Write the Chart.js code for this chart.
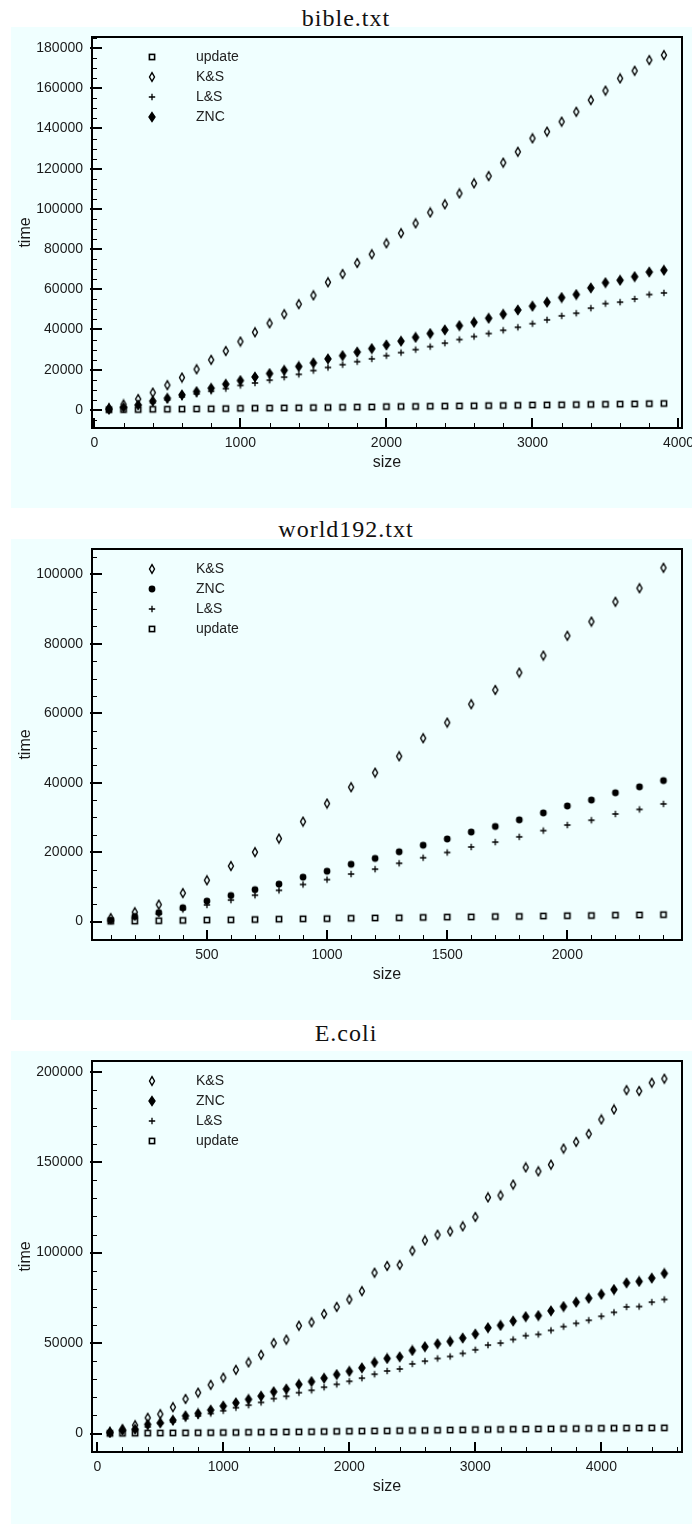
<!DOCTYPE html>
<html>
<head>
<meta charset="utf-8">
<script src="https://cdn.jsdelivr.net/npm/chart.js@4/dist/chart.umd.min.js"></script>
<style>
body { margin: 0; background: #fff; width: 692px; height: 1524px; overflow: hidden; position: relative; }
.title { position: absolute; left: 0; width: 692px; text-align: center; font-family: "Liberation Serif", serif; font-size: 24px; line-height: 24px; letter-spacing: 1px; color: #111; }
.panel { position: absolute; left: 11px; width: 681px; background: #f0ffff; }
canvas { display: block; }
</style>
</head>
<body>
<div class="title" style="top:6px">bible.txt</div>
<div class="panel" style="top:27px;height:481px"><canvas id="bible" width="681" height="481"></canvas></div>
<div class="title" style="top:517px">world192.txt</div>
<div class="panel" style="top:539px;height:481px"><canvas id="world" width="681" height="481"></canvas></div>
<div class="title" style="top:1021px">E.coli</div>
<div class="panel" style="top:1051px;height:473px"><canvas id="ecoli" width="681" height="473"></canvas></div>
<script>
// bible.txt
const bibleSizes = [100, 200, 300, 400, 500, 600, 700, 800, 900, 1000, 1100, 1200, 1300, 1400, 1500, 1600, 1700, 1800, 1900, 2000,
  2100, 2200, 2300, 2400, 2500, 2600, 2700, 2800, 2900, 3000, 3100, 3200, 3300, 3400, 3500, 3600, 3700, 3800, 3900];
const bibleUpdate = [100, 150, 200, 300, 350, 400, 500, 550, 650, 800, 850, 900, 1000, 1050, 1150, 1200, 1300, 1400, 1450, 1650,
  1700, 1750, 1850, 1900, 2000, 2050, 2150, 2200, 2300, 2450, 2500, 2550, 2650, 2750, 2800, 2900, 3000, 3100, 3200];
const bibleKS = [900, 2700, 5400, 8600, 12300, 16100, 20200, 24900, 29300, 34000, 38600, 43100, 47600, 52600, 57000, 63500, 67600, 73100, 77400, 82900,
  87900, 92800, 98200, 102300, 107700, 112700, 116300, 123000, 128400, 135100, 138400, 143400, 148300, 154100, 158800, 164900, 168700, 174000, 176500];
const bibleLS = [500, 1500, 2300, 3600, 5000, 6500, 8000, 9300, 10600, 12200, 13400, 14800, 16300, 17700, 19600, 21100, 22500, 24000, 25400, 27000,
  28500, 30000, 31500, 33200, 35000, 36500, 38000, 39600, 41100, 42900, 44800, 46800, 48100, 50600, 52900, 53600, 55200, 57400, 58200];
const bibleZNC = [300, 1200, 2500, 4400, 5800, 7500, 9100, 10800, 12800, 14600, 16400, 18100, 19700, 21600, 23400, 25400, 27000, 28800, 30500, 32300,
  34200, 36100, 38000, 39800, 41900, 43600, 45600, 47600, 49700, 51600, 53600, 55900, 57400, 60700, 63300, 64500, 66300, 68600, 69500];
const bibleXTicks = [0, 1000, 2000, 3000, 4000];
const bibleYTicks = [0, 20000, 40000, 60000, 80000, 100000, 120000, 140000, 160000, 180000];

// world192.txt
const worldSizes = [100, 200, 300, 400, 500, 600, 700, 800, 900, 1000, 1100, 1200, 1300, 1400, 1500, 1600, 1700, 1800, 1900, 2000, 2100, 2200, 2300, 2400];
const worldKS = [1000, 2700, 4900, 8200, 11900, 16000, 20000, 23900, 28800, 34000, 38700, 42900, 47600, 52800, 57300, 62600, 66700, 71700, 76600, 82300, 86400, 92100, 96000, 101900];
const worldZNC = [400, 1500, 2600, 4000, 5900, 7500, 9200, 10800, 12800, 14500, 16500, 18200, 20100, 22000, 23800, 25800, 27400, 29300, 31300, 33300, 35000, 37100, 38800, 40600];
const worldLS = [300, 1200, 2200, 3500, 4800, 6200, 7600, 9000, 10700, 12100, 13700, 15100, 16800, 18400, 19900, 21500, 22900, 24400, 26200, 27800, 29200, 31000, 32300, 33900];
const worldUpdate = [100, 150, 250, 350, 450, 500, 600, 700, 800, 850, 950, 1050, 1100, 1200, 1300, 1350, 1450, 1500, 1600, 1700, 1750, 1850, 1900, 2000];
const worldXTicks = [500, 1000, 1500, 2000];
const worldYTicks = [0, 20000, 40000, 60000, 80000, 100000];

// E.coli
const ecoliSizes = [100, 200, 300, 400, 500, 600, 700, 800, 900, 1000, 1100, 1200, 1300, 1400, 1500, 1600, 1700, 1800, 1900, 2000,
  2100, 2200, 2300, 2400, 2500, 2600, 2700, 2800, 2900, 3000, 3100, 3200, 3300, 3400, 3500, 3600, 3700, 3800, 3900, 4000,
  4100, 4200, 4300, 4400, 4500];
const ecoliKS = [900, 2400, 4600, 8700, 10700, 14600, 19100, 22600, 26900, 30900, 35200, 39300, 43500, 50000, 51900, 59600, 61500, 66100, 70000, 74100,
  78700, 88900, 92600, 93200, 101000, 106700, 109900, 111700, 114500, 119700, 130500, 131600, 137600, 147100, 144900, 148600, 157500, 161200, 165600, 173600,
  179100, 189800, 189300, 193900, 196100];
const ecoliZNC = [600, 1900, 2400, 5000, 5900, 7400, 9800, 11100, 13000, 15200, 17000, 18900, 20700, 23100, 24600, 27200, 28700, 30600, 32600, 34400,
  36300, 39300, 41500, 42400, 45900, 48000, 49600, 50900, 52800, 55000, 58500, 59800, 62200, 64600, 65200, 67800, 70200, 72600, 74800, 77000,
  79600, 83300, 84100, 85900, 88500];
const ecoliLS = [400, 1500, 2200, 3700, 5600, 6500, 8300, 9800, 11100, 12600, 14300, 15700, 17200, 19300, 20600, 22600, 23900, 25600, 27200, 28900,
  30600, 32800, 34600, 35700, 38500, 40000, 41500, 42600, 44300, 46300, 48900, 50000, 52000, 54100, 54800, 57000, 59100, 60900, 62600, 64800,
  67000, 70000, 70200, 72600, 74100];
const ecoliUpdate = [100, 150, 200, 250, 300, 350, 400, 450, 500, 550, 600, 700, 750, 800, 900, 950, 1000, 1100, 1200, 1300,
  1350, 1450, 1500, 1600, 1700, 1750, 1850, 1950, 2050, 2200, 2250, 2300, 2400, 2450, 2550, 2600, 2700, 2750, 2850, 2900,
  2950, 3000, 3050, 3100, 3150];
const ecoliXTicks = [0, 1000, 2000, 3000, 4000];
const ecoliYTicks = [0, 50000, 100000, 150000, 200000];

const SANS = '"Liberation Sans", Arial, sans-serif';

// small marker images, used for the points and for the legend
function marker(kind) {
  const c = document.createElement('canvas');
  c.width = 10; c.height = 12;
  const g = c.getContext('2d');
  const cx = 5, cy = 6;
  g.strokeStyle = '#000';
  g.fillStyle = '#000';
  if (kind === 'square') {
    g.lineWidth = 1.6;
    g.strokeRect(cx - 2.6, cy - 2.6, 5.2, 5.2);
  } else if (kind === 'diamond' || kind === 'fdiamond') {
    const w = kind === 'diamond' ? 2.5 : 3, h = 4.4;
    g.beginPath();
    g.moveTo(cx, cy - h); g.lineTo(cx + w, cy); g.lineTo(cx, cy + h); g.lineTo(cx - w, cy);
    g.closePath();
    g.lineWidth = 1.4;
    if (kind === 'fdiamond') g.fill();
    g.stroke();
  } else if (kind === 'plus') {
    g.lineWidth = 1.3;
    g.beginPath();
    g.moveTo(cx - 3.2, cy); g.lineTo(cx + 3.2, cy);
    g.moveTo(cx, cy - 3.2); g.lineTo(cx, cy + 3.2);
    g.stroke();
  } else if (kind === 'circle') {
    g.beginPath();
    g.arc(cx, cy, 3.4, 0, Math.PI * 2);
    g.fill();
  }
  return c;
}

// box, inward ticks and the legend inside the plot
const frame = {
  id: 'frame',
  afterDraw(chart) {
    const { ctx, chartArea: a, scales: { x, y } } = chart;
    const o = chart.options.plugins.frame;
    ctx.save();
    ctx.strokeStyle = '#000';
    ctx.lineWidth = 1;
    ctx.beginPath();
    for (let v = Math.ceil(x.min / o.xMinor) * o.xMinor; v <= x.max; v += o.xMinor) {
      const p = Math.round(x.getPixelForValue(v)) + 0.5;
      ctx.moveTo(p, a.bottom); ctx.lineTo(p, a.bottom - 5);
    }
    for (let v = Math.ceil(y.min / o.yMinor) * o.yMinor; v <= y.max; v += o.yMinor) {
      const p = Math.round(y.getPixelForValue(v)) + 0.5;
      ctx.moveTo(a.left, p); ctx.lineTo(a.left + 5, p);
    }
    ctx.stroke();
    ctx.lineWidth = 2;
    ctx.beginPath();
    x.ticks.forEach(t => {
      const p = Math.round(x.getPixelForValue(t.value));
      ctx.moveTo(p, a.bottom); ctx.lineTo(p, a.bottom - 10);
    });
    y.ticks.forEach(t => {
      const p = Math.round(y.getPixelForValue(t.value));
      ctx.moveTo(a.left - 2, p); ctx.lineTo(a.left + 10, p);
    });
    ctx.stroke();
    ctx.strokeRect(a.left, a.top, a.width, a.height);

    ctx.font = '14px ' + SANS;
    ctx.fillStyle = '#222';
    ctx.textBaseline = 'middle';
    chart.data.datasets.forEach((ds, k) => {
      const ly = a.top + 20 * (k + 1);
      const img = ds.pointStyle;
      ctx.drawImage(img, 141 - img.width / 2, ly - img.height / 2);
      ctx.fillText(ds.label, 185, ly);
    });
    ctx.restore();
  }
};

function plot(id, spec) {
  const canvas = document.getElementById(id);
  const H = canvas.height;
  return new Chart(canvas, {
    type: 'scatter',
    data: {
      datasets: spec.series.map(s => ({
        label: s.label,
        data: spec.sizes.map((v, i) => ({ x: v, y: s.values[i] })),
        pointStyle: marker(s.kind),
        pointRadius: 4,
        pointHoverRadius: 4
      }))
    },
    options: {
      responsive: false,
      animation: false,
      events: [],
      layout: { padding: { left: 0, top: 10, right: 10, bottom: 0 } },
      plugins: {
        legend: { display: false },
        tooltip: { enabled: false },
        frame: { xMinor: spec.xMinor, yMinor: spec.yMinor }
      },
      scales: {
        x: {
          type: 'linear',
          min: spec.xRange[0], max: spec.xRange[1],
          grid: { display: false, drawTicks: false },
          border: { display: false },
          afterBuildTicks: s => { s.ticks = spec.xTicks.map(v => ({ value: v })); },
          afterFit: s => { s.height = H - 401; s.paddingLeft = 0; s.paddingRight = 0; },
          ticks: { padding: 7, color: '#1a1a1a', font: { family: SANS, size: 14 }, maxRotation: 0, autoSkip: false, callback: v => String(v) },
          title: { display: true, text: 'size', color: '#1a1a1a', font: { family: SANS, size: 16 }, padding: { top: 0, bottom: H - 436 - 9.6 } }
        },
        y: {
          type: 'linear',
          min: spec.yRange[0], max: spec.yRange[1],
          grid: { display: false, drawTicks: false },
          border: { display: false },
          afterBuildTicks: s => { s.ticks = spec.yTicks.map(v => ({ value: v })); },
          afterFit: s => { s.width = 81; s.paddingTop = 0; s.paddingBottom = 0; },
          ticks: { padding: 9, color: '#1a1a1a', font: { family: SANS, size: 14 }, autoSkip: false, callback: v => String(v) },
          title: { display: true, text: 'time', color: '#1a1a1a', font: { family: SANS, size: 16 }, padding: { top: 5, bottom: 0 } }
        }
      }
    },
    plugins: [frame]
  });
}

plot('bible', {
  sizes: bibleSizes,
  series: [
    { label: 'update', kind: 'square', values: bibleUpdate },
    { label: 'K&S', kind: 'diamond', values: bibleKS },
    { label: 'L&S', kind: 'plus', values: bibleLS },
    { label: 'ZNC', kind: 'fdiamond', values: bibleZNC }
  ],
  xRange: [-16, 4024], yRange: [-9000, 185500],
  xTicks: bibleXTicks, yTicks: bibleYTicks, xMinor: 200, yMinor: 5000
});

plot('world', {
  sizes: worldSizes,
  series: [
    { label: 'K&S', kind: 'diamond', values: worldKS },
    { label: 'ZNC', kind: 'circle', values: worldZNC },
    { label: 'L&S', kind: 'plus', values: worldLS },
    { label: 'update', kind: 'square', values: worldUpdate }
  ],
  xRange: [22, 2477], yRange: [-5300, 107300],
  xTicks: worldXTicks, yTicks: worldYTicks, xMinor: 100, yMinor: 5000
});

plot('ecoli', {
  sizes: ecoliSizes,
  series: [
    { label: 'K&S', kind: 'diamond', values: ecoliKS },
    { label: 'ZNC', kind: 'fdiamond', values: ecoliZNC },
    { label: 'L&S', kind: 'plus', values: ecoliLS },
    { label: 'update', kind: 'square', values: ecoliUpdate }
  ],
  xRange: [-42, 4640], yRange: [-10200, 205900],
  xTicks: ecoliXTicks, yTicks: ecoliYTicks, xMinor: 200, yMinor: 10000
});
</script>
</body>
</html>
